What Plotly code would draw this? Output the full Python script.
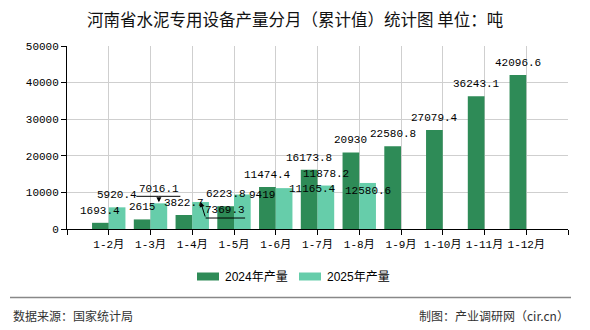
import plotly.graph_objects as go

# ---------------- data ----------------
categories = ["1-2月", "1-3月", "1-4月", "1-5月", "1-6月", "1-7月", "1-8月",
              "1-9月", "1-10月", "1-11月", "1-12月"]
values_2024 = [1693.4, 2615, 3822.7, 6223.8, 11474.4, 16173.8, 20930,
               22580.8, 27079.4, 36243.1, 42096.6]
values_2025 = [5920.4, 7016.1, 7369.3, 9419, 11165.4, 11878.2, 12580.6]
series_names = ["2024年产量", "2025年产量"]
y_ticks = [0, 10000, 20000, 30000, 40000, 50000]

title_text = "河南省水泥专用设备产量分月（累计值）统计图 单位：吨"
source_text = "数据来源：国家统计局"
maker_text = "制图：产业调研网（cir.cn）"

# ---------------- style ----------------
DARK = "#2E8B57"
LIGHT = "#66CDAA"
GRID = "#cfcfcf"
LABEL_FONT = dict(family="Liberation Mono, DejaVu Sans Mono, monospace", size=11, color="#000")
TICK_FONT = dict(family="Liberation Mono, Noto Sans CJK SC, monospace", size=11, color="#000")
CJK = "Noto Sans CJK SC, Liberation Sans, sans-serif"

W, H = 590, 330
L, R, T, B = 67, 22, 46, 101
PW, PH = W - L - R, H - T - B


def px(x):  # page pixel -> paper x
    return (x - L) / PW


def py(y):  # page pixel -> paper y
    return (H - B - y) / PH


def fmt(v):
    s = "%.1f" % v
    return s.rstrip("0").rstrip(".") if "." in s else s


idx = list(range(len(categories)))
fig = go.Figure()
fig.add_bar(x=idx, y=values_2024, name=series_names[0], marker_color=DARK,
            marker_line_width=0, showlegend=False)
fig.add_bar(x=idx[:len(values_2025)], y=values_2025, name=series_names[1],
            marker_color=LIGHT, marker_line_width=0, showlegend=False)

annotations = []
# label offsets (xshift, yshift) for labels moved to avoid overlaps
shift_2025 = {1: (0, 14), 2: (24, -8), 3: (20, 0), 4: (28, -1), 6: (0, -8)}
for i, v in enumerate(values_2024):
    annotations.append(dict(x=i - 0.2, y=v, text=fmt(v), showarrow=False,
                            xref="x", yref="y", yanchor="middle", yshift=12,
                            font=LABEL_FONT))
for i, v in enumerate(values_2025):
    xs, ys = shift_2025.get(i, (0, 12))
    annotations.append(dict(x=i + 0.2, y=v, text=fmt(v), showarrow=False,
                            xref="x", yref="y", yanchor="middle",
                            xshift=xs, yshift=ys, font=LABEL_FONT))

# leader lines
v13 = values_2025[1]
annotations += [
    dict(x=1.2, y=v13, text="", showarrow=True, ax=0, ay=-7, arrowhead=2,
         arrowsize=1, arrowwidth=1, arrowcolor="#000", standoff=1, xref="x", yref="y"),
    dict(x=1.2, y=v13, yshift=7, text="", showarrow=True, ax=-24, ay=0, arrowhead=0,
         arrowwidth=1, arrowcolor="#000", xref="x", yref="y"),
    dict(x=1.2, y=v13, yshift=7, text="", showarrow=True, ax=23, ay=0, arrowhead=0,
         arrowwidth=1, arrowcolor="#000", xref="x", yref="y"),
]
v14 = values_2025[2]
annotations += [
    dict(x=2.2, y=v14, text="", showarrow=True, ax=5, ay=16, arrowhead=2,
         arrowsize=1, arrowwidth=1, arrowcolor="#000", standoff=0, xref="x", yref="y"),
    dict(x=2.2, y=v14, xshift=5, yshift=-16, text="", showarrow=True, ax=41, ay=0,
         arrowhead=0, arrowwidth=1, arrowcolor="#000", xref="x", yref="y"),
]

# title
annotations.append(dict(x=px(W / 2), y=py(19), xref="paper", yref="paper",
                        text=title_text, showarrow=False, xanchor="center", yanchor="middle",
                        font=dict(family=CJK, size=16.5, color="#111")))
# custom legend
legend_items = [(197, 219, 223, series_names[0], DARK), (299, 321, 325, series_names[1], LIGHT)]
shapes = []
for x0, x1, tx, name, col in legend_items:
    shapes.append(dict(type="rect", xref="paper", yref="paper", x0=px(x0), x1=px(x1),
                       y0=py(280.5), y1=py(272.5), fillcolor=col, line_width=0))
    annotations.append(dict(x=px(tx), y=py(276.5), xref="paper", yref="paper", text=name,
                            showarrow=False, xanchor="left", yanchor="middle",
                            font=dict(family="Liberation Sans, Noto Sans CJK SC", size=12, color="#000")))
# footer
shapes.append(dict(type="line", xref="paper", yref="paper", x0=px(10), x1=px(571),
                   y0=py(297.5), y1=py(297.5), line=dict(color="#888", width=1.5)))
annotations.append(dict(x=px(11), y=py(315), xref="paper", yref="paper", text=source_text,
                        showarrow=False, xanchor="left", yanchor="middle",
                        font=dict(family=CJK, size=12, color="#333")))
annotations.append(dict(x=px(571), y=py(315), xref="paper", yref="paper", text=maker_text,
                        showarrow=False, xanchor="right", yanchor="middle",
                        font=dict(family=CJK, size=12, color="#333")))

fig.update_layout(
    width=W, height=H,
    margin=dict(l=L, r=R, t=T, b=B, pad=0),
    paper_bgcolor="#fff", plot_bgcolor="#fff",
    barmode="group", bargap=0.2, bargroupgap=0,
    showlegend=False,
    annotations=annotations, shapes=shapes,
    xaxis=dict(range=[-1, len(categories)], tickmode="array",
               tickvals=list(range(-1, len(categories) + 1)),
               ticktext=[""] + categories + [""],
               showgrid=True, gridcolor=GRID, gridwidth=1,
               showline=True, linecolor="#000", linewidth=1,
               ticks="outside", ticklen=5, tickcolor="#000",
               tickfont=TICK_FONT, zeroline=False, fixedrange=True),
    yaxis=dict(range=[0, 50000], tickmode="array", tickvals=y_ticks,
               ticktext=[str(t) for t in y_ticks],
               showgrid=True, gridcolor=GRID, gridwidth=1,
               showline=True, linecolor="#000", linewidth=1,
               ticks="outside", ticklen=5, tickcolor="#000",
               tickfont=TICK_FONT, zeroline=False, fixedrange=True),
)

fig.write_html("out.html")
